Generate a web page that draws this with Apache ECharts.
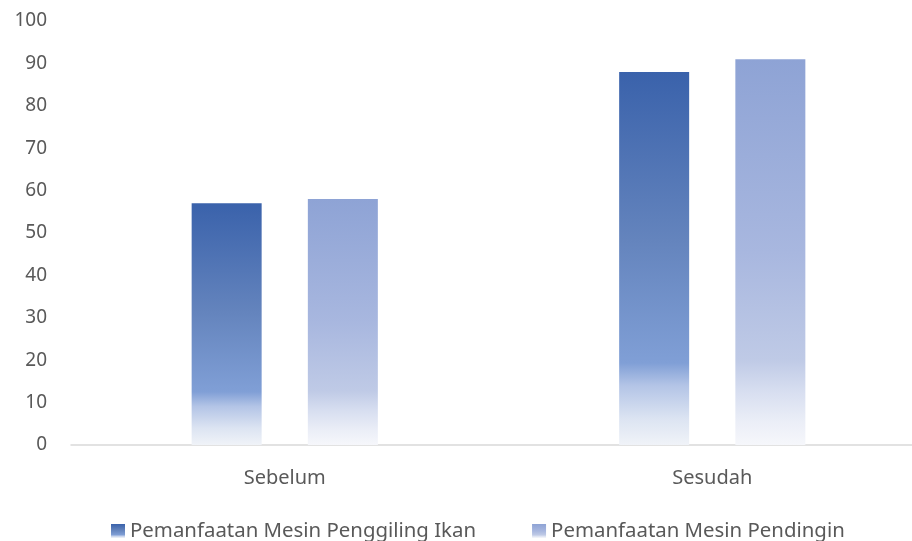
<!DOCTYPE html>
<html>
<head>
<meta charset="utf-8">
<script src="https://cdn.jsdelivr.net/npm/echarts@6/dist/echarts.min.js"></script>
<style>
  html, body { margin: 0; padding: 0; background: #fff; }
  #chart { width: 912px; height: 541px; }
</style>
</head>
<body>
<div id="chart"></div>
<script>
const categories = ['Sebelum', 'Sesudah']
const seriesNames = ['Pemanfaatan Mesin Penggiling Ikan', 'Pemanfaatan Mesin Pendingin']
const penggilingValues = [57, 88]
const pendinginValues = [58, 91]

const darkFill = new echarts.graphic.LinearGradient(0, 0, 0, 1, [
  { offset: 0, color: '#3A62AB' },
  { offset: 0.45, color: '#6484BD' },
  { offset: 0.78, color: '#809FD6' },
  { offset: 0.84, color: '#B3C4E6' },
  { offset: 0.93, color: '#DCE4F2' },
  { offset: 1, color: '#F0F3F8' }
])
const lightFill = new echarts.graphic.LinearGradient(0, 0, 0, 1, [
  { offset: 0, color: '#8EA3D5' },
  { offset: 0.5, color: '#A8B7DF' },
  { offset: 0.78, color: '#BFCAE6' },
  { offset: 0.86, color: '#D7DEF0' },
  { offset: 0.94, color: '#EBEEF7' },
  { offset: 1, color: '#F6F7FB' }
])

const myChart = echarts.init(document.getElementById('chart'))
const option = {
  animation: false,
  textStyle: { fontFamily: 'Noto Sans' },
  grid: {
    left: 71,
    top: 21,
    width: 855,
    bottom: 96,
    containLabel: false,
    outerBoundsMode: 'none'
  },
  legend: {
    data: seriesNames,
    left: 106,
    top: 516,
    itemWidth: 14,
    itemHeight: 14,
    itemGap: 56,
    icon: 'rect',
    textStyle: {
      color: '#595959',
      fontSize: 20.4
    }
  },
  xAxis: {
    type: 'category',
    data: categories,
    axisLine: { lineStyle: { color: '#D9D9D9', width: 1.5 } },
    axisTick: { show: false },
    axisLabel: { color: '#595959', fontSize: 20, margin: 23 }
  },
  yAxis: {
    type: 'value',
    min: 0,
    max: 100,
    interval: 10,
    axisLine: { show: false },
    axisTick: { show: false },
    splitLine: { show: false },
    axisLabel: { color: '#595959', fontSize: 19, margin: 24 }
  },
  series: [
    {
      name: seriesNames[0],
      type: 'bar',
      data: penggilingValues,
      barWidth: 70,
      barGap: '66%',
      itemStyle: { color: darkFill }
    },
    {
      name: seriesNames[1],
      type: 'bar',
      data: pendinginValues,
      barWidth: 70,
      itemStyle: { color: lightFill }
    }
  ]
}
myChart.setOption(option)
</script>
</body>
</html>
